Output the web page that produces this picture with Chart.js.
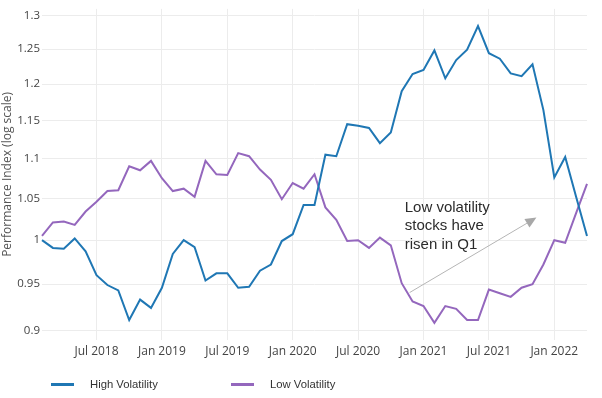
<!DOCTYPE html>
<html>
<head>
<meta charset="utf-8">
<script src="https://cdn.jsdelivr.net/npm/chart.js@4/dist/chart.umd.min.js"></script>
<style>
  body { margin: 0; background: #fff; }
  #wrap { position: relative; width: 602px; height: 398px; }
  #chart { position: absolute; left: 0; top: 0; }
  #legend { position: absolute; left: 0; top: 376px; width: 602px; height: 16px; }
  .item { position: absolute; top: 0; display: flex; align-items: center; height: 16px;
          font: 11.3px "Liberation Sans", Arial, sans-serif; color: #333; }
  .item span.line { display: inline-block; width: 23px; height: 3px; margin-right: 16px; }
</style>
</head>
<body>
<div id="wrap">
  <canvas id="chart" width="602" height="398"></canvas>
  <div id="legend"></div>
</div>
<script>
// months, one point per month
const months = [
  'Feb 2018', 'Mar 2018', 'Apr 2018', 'May 2018', 'Jun 2018', 'Jul 2018', 'Aug 2018', 'Sep 2018', 'Oct 2018', 'Nov 2018', 'Dec 2018',
  'Jan 2019', 'Feb 2019', 'Mar 2019', 'Apr 2019', 'May 2019', 'Jun 2019', 'Jul 2019', 'Aug 2019', 'Sep 2019', 'Oct 2019', 'Nov 2019', 'Dec 2019',
  'Jan 2020', 'Feb 2020', 'Mar 2020', 'Apr 2020', 'May 2020', 'Jun 2020', 'Jul 2020', 'Aug 2020', 'Sep 2020', 'Oct 2020', 'Nov 2020', 'Dec 2020',
  'Jan 2021', 'Feb 2021', 'Mar 2021', 'Apr 2021', 'May 2021', 'Jun 2021', 'Jul 2021', 'Aug 2021', 'Sep 2021', 'Oct 2021', 'Nov 2021', 'Dec 2021',
  'Jan 2022', 'Feb 2022', 'Mar 2022', 'Apr 2022'
];

const highVol = [
  1.000, 0.991, 0.990, 1.002, 0.987, 0.960, 0.949, 0.943, 0.911, 0.933, 0.924, 0.946, 0.984, 1.000,
  0.992, 0.954, 0.962, 0.962, 0.946, 0.947, 0.965, 0.972, 0.999, 1.007, 1.042, 1.042, 1.105,
  1.103, 1.145, 1.143, 1.140, 1.120, 1.134, 1.190, 1.214, 1.220, 1.248, 1.208, 1.234,
  1.249, 1.284, 1.244, 1.236, 1.215, 1.211, 1.228, 1.164, 1.076, 1.102, 1.052, 1.005
];

const lowVol = [
  1.005, 1.021, 1.022, 1.018, 1.034, 1.046, 1.059, 1.060, 1.090, 1.085, 1.097, 1.075, 1.059, 1.062,
  1.052, 1.097, 1.080, 1.079, 1.107, 1.103, 1.086, 1.073, 1.049, 1.069, 1.062, 1.080, 1.039,
  1.024, 0.999, 1.000, 0.991, 1.003, 0.994, 0.951, 0.931, 0.926, 0.908, 0.926, 0.923,
  0.911, 0.911, 0.944, 0.940, 0.936, 0.946, 0.950, 0.972, 1.000, 0.997, 1.032, 1.068
];

const xTickLabels = ['Jul 2018', 'Jan 2019', 'Jul 2019', 'Jan 2020', 'Jul 2020', 'Jan 2021', 'Jul 2021', 'Jan 2022'];
const yTicks = [0.9, 0.95, 1, 1.05, 1.1, 1.15, 1.2, 1.25, 1.3];

// annotation (arrow + text), in data coordinates
const note = {
  lines: ['Low volatility', 'stocks have', 'risen in Q1'],
  textX: 33.28, textY: 1.0338,
  tailX: 33.73, tailY: 0.9407,
  headX: 45.36, headY: 1.0267
};

const gridColor = '#ececec';

const notePlugin = {
  id: 'note',
  afterDatasetsDraw(chart) {
    const {ctx, scales: {x, y}} = chart;
    const x0 = x.getPixelForValue(note.tailX), y0 = y.getPixelForValue(note.tailY);
    const x1 = x.getPixelForValue(note.headX), y1 = y.getPixelForValue(note.headY);
    const a = Math.atan2(y1 - y0, x1 - x0);
    const len = 11, half = 5;
    ctx.save();
    ctx.strokeStyle = '#b5b5b5';
    ctx.lineWidth = 1;
    ctx.beginPath();
    ctx.moveTo(x0, y0);
    ctx.lineTo(x1 - Math.cos(a) * len, y1 - Math.sin(a) * len);
    ctx.stroke();
    ctx.fillStyle = '#a8a8a8';
    ctx.beginPath();
    ctx.moveTo(x1, y1);
    ctx.lineTo(x1 - Math.cos(a) * len - Math.sin(a) * half, y1 - Math.sin(a) * len + Math.cos(a) * half);
    ctx.lineTo(x1 - Math.cos(a) * len + Math.sin(a) * half, y1 - Math.sin(a) * len - Math.cos(a) * half);
    ctx.closePath();
    ctx.fill();

    ctx.fillStyle = '#2b2b2b';
    ctx.font = '15px "Liberation Sans", Arial, sans-serif';
    ctx.textBaseline = 'alphabetic';
    ctx.textAlign = 'left';
    const tx = x.getPixelForValue(note.textX), ty = y.getPixelForValue(note.textY);
    note.lines.forEach((t, i) => ctx.fillText(t, tx, ty + i * 18.4));
    ctx.restore();
  }
};

const chart = new Chart(document.getElementById('chart'), {
  type: 'line',
  data: {
    labels: months,
    datasets: [
      { label: 'High Volatility', data: highVol, borderColor: '#1f77b4', backgroundColor: '#1f77b4',
        borderWidth: 2, pointRadius: 0, tension: 0 },
      { label: 'Low Volatility', data: lowVol, borderColor: '#9467bd', backgroundColor: '#9467bd',
        borderWidth: 2, pointRadius: 0, tension: 0 }
    ]
  },
  options: {
    responsive: false,
    animation: false,
    layout: { padding: { top: 7, right: 15, left: 0, bottom: 0 } },
    plugins: {
      legend: { display: false },
      tooltip: { enabled: false }
    },
    scales: {
      x: {
        type: 'category',
        border: { display: false },
        grid: {
          drawTicks: false,
          color: c => xTickLabels.includes(months[c.index]) ? gridColor : 'rgba(0,0,0,0)'
        },
        ticks: {
          autoSkip: false,
          maxRotation: 0,
          padding: 4,
          color: '#444',
          font: { family: '"Open Sans", sans-serif', size: 12 },
          callback: function (v) {
            const lab = this.getLabelForValue(v);
            return xTickLabels.includes(lab) ? lab : '';
          }
        },
        afterFit(scale) { scale.height = 58; }
      },
      y: {
        type: 'logarithmic',
        min: 0.8938,
        max: 1.31,
        border: { display: false },
        grid: { drawTicks: false, color: gridColor },
        afterBuildTicks(scale) { scale.ticks = yTicks.map(v => ({ value: v })); },
        ticks: {
          padding: 2,
          color: '#444',
          font: { family: '"Open Sans", sans-serif', size: 11.5 },
          callback: v => String(v)
        },
        title: {
          display: true,
          text: 'Performance Index (log scale)',
          color: '#555',
          padding: { top: 0, bottom: 0 },
          font: { family: '"Open Sans", sans-serif', size: 12 }
        },
        afterFit(scale) { scale.width = 42; }
      }
    }
  },
  plugins: [notePlugin]
});

// html legend built from the chart's datasets
const legendLeft = [51, 231];
const legendEl = document.getElementById('legend');
chart.data.datasets.forEach((ds, i) => {
  const item = document.createElement('div');
  item.className = 'item';
  item.style.left = legendLeft[i] + 'px';
  const line = document.createElement('span');
  line.className = 'line';
  line.style.background = ds.borderColor;
  item.appendChild(line);
  item.appendChild(document.createTextNode(ds.label));
  legendEl.appendChild(item);
});
</script>
</body>
</html>
